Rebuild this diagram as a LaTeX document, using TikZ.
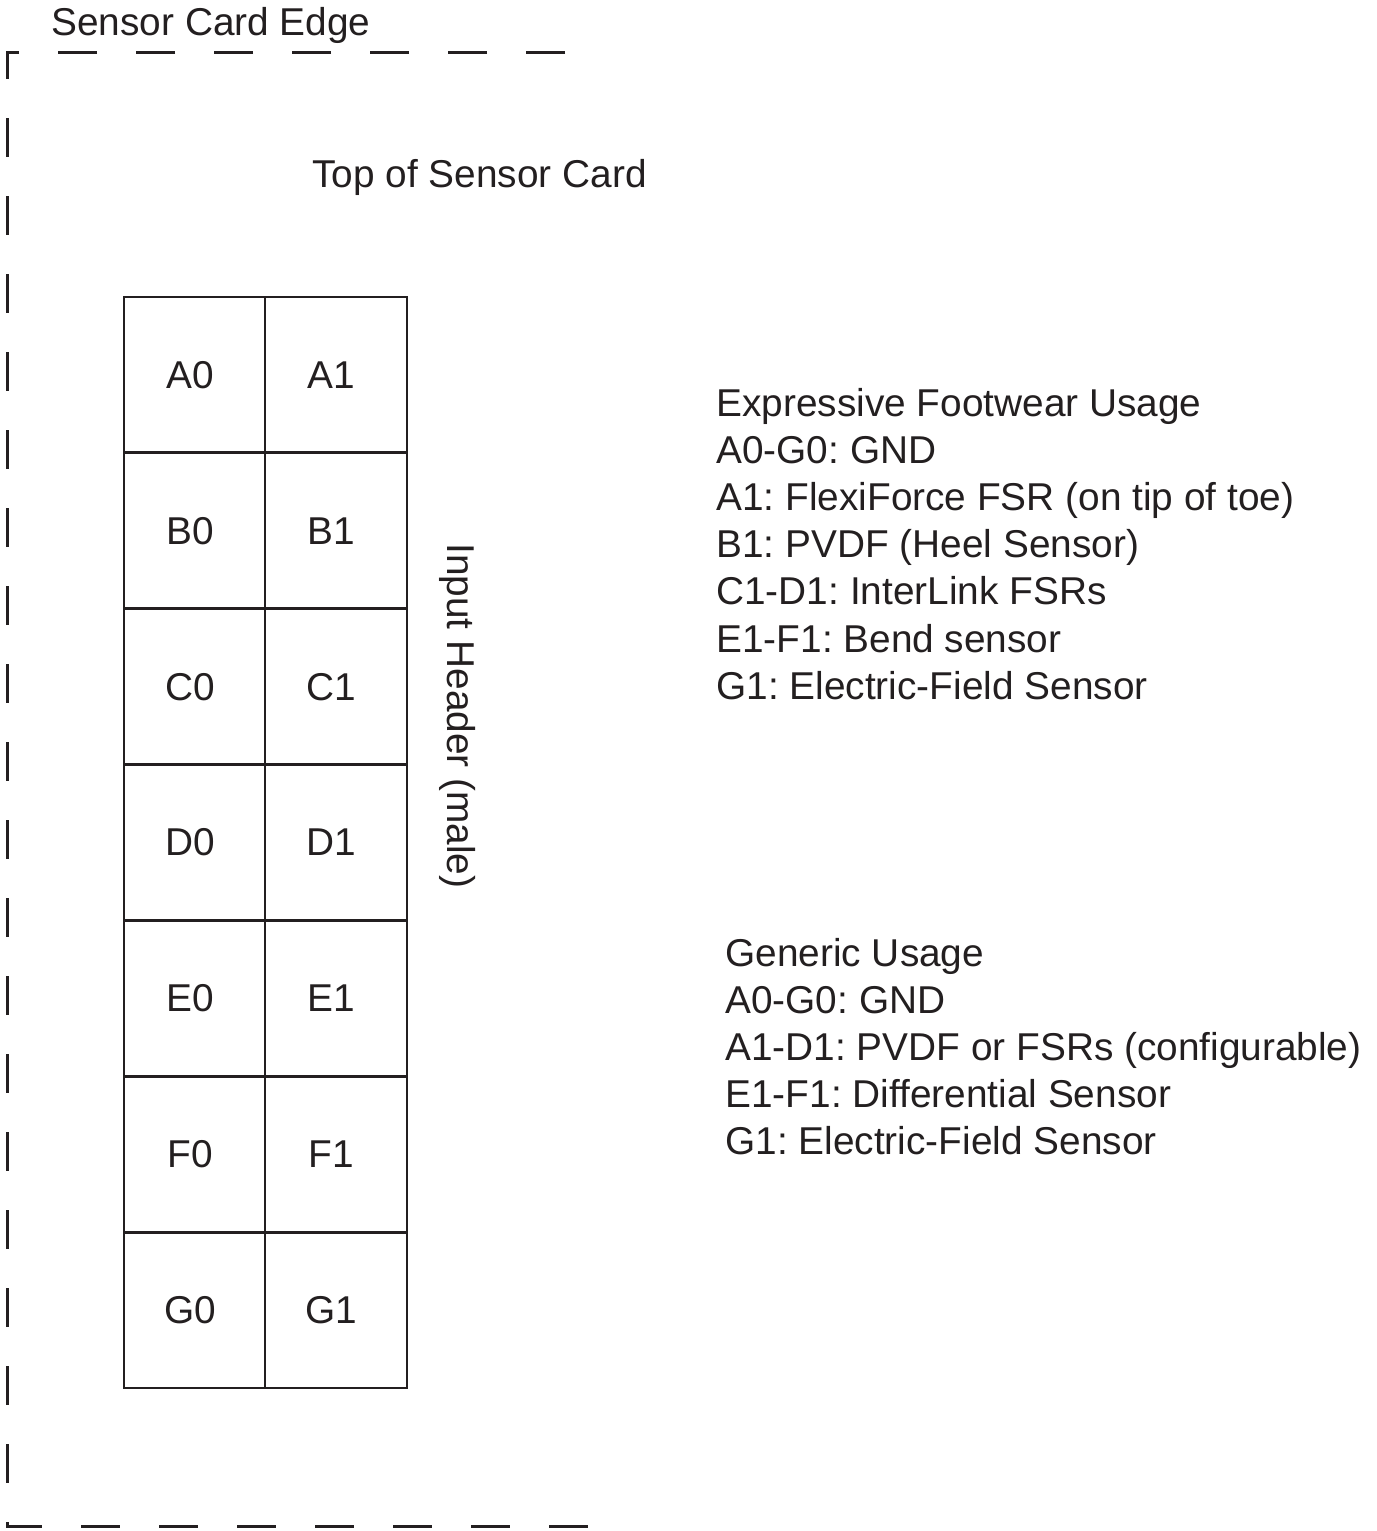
\documentclass[tikz,border=0pt]{standalone}
\usepackage{fontspec}
\setmainfont{Liberation Sans}
\usepackage{xcolor}
\usepackage{tikz}
\usetikzlibrary{positioning}
\frenchspacing

\definecolor{inkblack}{RGB}{35,31,32}

\begin{document}
\begin{tikzpicture}[x=0.5pt, y=-0.5pt, inkblack,
    every node/.style={inner sep=0pt, font=\fontsize{19.4pt}{23.6pt}\selectfont},
    cardedge/.style={line width=1.5pt, dash pattern=on 19.5pt off 19.5pt},
    pingrid/.style={line width=1.45pt},
    txt/.style={anchor=base west}]
    \useasboundingbox (0,0) rectangle (1376,1531);

    % Rand der Karte
    \node[txt] (edge) at (51,35) {Sensor Card Edge};
    \coordinate (edgeTR) at (565,52);
    \coordinate (edgeTL) at (7,52);
    \coordinate (edgeBL) at (7,1526);
    \coordinate (edgeBR) at (588,1526);
    \draw[cardedge] (edgeTR) -- (edgeTL) -- (edgeBL) -- (edgeBR);

    \node[txt] (top) at (312,187) {Top of Sensor Card};

    % Stiftleiste
    \draw[pingrid] (124,297) rectangle (407,1388);
    \draw[pingrid] (265,297) -- (265,1388);
    \foreach \r in {1,...,6} {
        \draw[pingrid] (124,{297+155.86*\r}) -- (407,{297+155.86*\r});
    }
    \foreach \p [count=\r from 0] in {A,B,C,D,E,F,G} {
        \node (\p0) at (190,{375+155.86*\r}) {\p0};
        \node (\p1) at (331,{375+155.86*\r}) {\p1};
    }
    \node[rotate=-90, anchor=base] (header) at (447,716) {Input Header (male)};

    % Belegung
    \foreach \txt [count=\i from 0] in {Expressive Footwear Usage,%
        A0-G0: GND,%
        A1: FlexiForce FSR (on tip of toe),%
        B1: PVDF (Heel Sensor),%
        C1-D1: InterLink FSRs,%
        E1-F1: Bend sensor,%
        G1: Electric-Field Sensor} {
        \node[txt] (foot\i) at (716,{416+47.2*\i}) {\txt};
    }
    \foreach \txt [count=\i from 0] in {Generic Usage,%
        A0-G0: GND,%
        A1-D1: PVDF or FSRs (configurable),%
        E1-F1: Differential Sensor,%
        G1: Electric-Field Sensor} {
        \node[txt] (gen\i) at (725,{966+47.2*\i}) {\txt};
    }

\end{tikzpicture}
\end{document}
